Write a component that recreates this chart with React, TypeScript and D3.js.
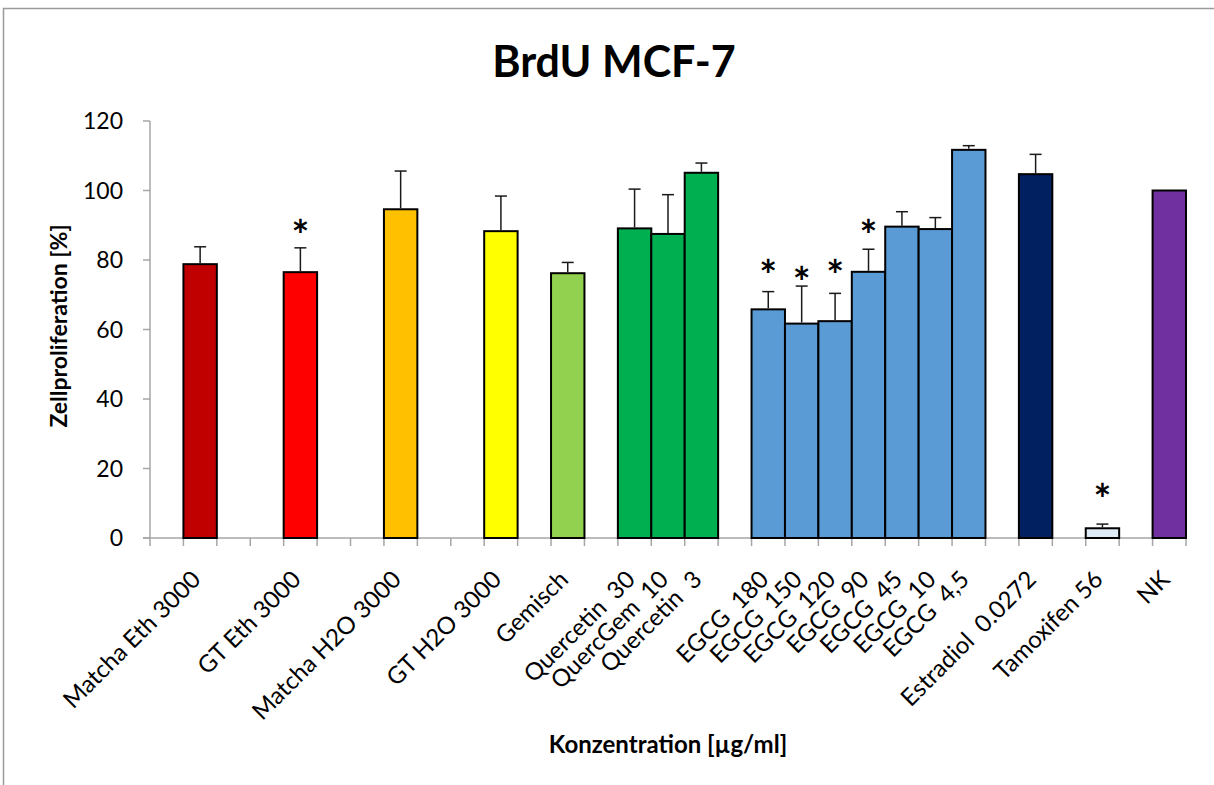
import React from "react";
import * as d3 from "d3";

const categories: string[] = [
  "", "Matcha Eth 3000", "", "", "GT Eth 3000", "", "", "Matcha H2O 3000", "", "",
  "GT H2O 3000", "", "Gemisch", "", "Quercetin  30", "QuercGem  10", "Quercetin  3", "",
  "EGCG  180", "EGCG  150", "EGCG  120", "EGCG  90", "EGCG  45", "EGCG  10", "EGCG  4,5", "",
  "Estradiol  0.0272", "", "Tamoxifen 56", "", "NK",
];

const values: (number | null)[] = [
  null, 78.8, null, null, 76.5, null, null, 94.6, null, null,
  88.3, null, 76.2, null, 89.1, 87.5, 105.1, null,
  65.8, 61.7, 62.4, 76.6, 89.6, 88.9, 111.7, null,
  104.7, null, 2.8, null, 100.0,
];

const errors: (number | null)[] = [
  null, 5.0, null, null, 7.0, null, null, 11.0, null, null,
  10.1, null, 3.1, null, 11.3, 11.3, 2.8, null,
  5.1, 10.8, 8.0, 6.5, 4.3, 3.3, 1.2, null,
  5.7, null, 1.2, null, null,
];

// significance markers: y value (in %) where the asterisk sits
const stars: (number | null)[] = [
  null, null, null, null, 90.1, null, null, null, null, null,
  null, null, null, null, null, null, null, null,
  78.6, 76.6, 78.6, 90.1, null, null, null, null,
  null, null, 14.1, null, null,
];

const groups: (string | null)[] = [
  null, "matchaEth", null, null, "gtEth", null, null, "matchaH2O", null, null,
  "gtH2O", null, "gemisch", null, "quercetin", "quercetin", "quercetin", null,
  "egcg", "egcg", "egcg", "egcg", "egcg", "egcg", "egcg", null,
  "estradiol", null, "tamoxifen", null, "nk",
];

const groupColors: Record<string, string> = {
  matchaEth: "#C00000",
  gtEth: "#FF0000",
  matchaH2O: "#FFC000",
  gtH2O: "#FFFF00",
  gemisch: "#92D050",
  quercetin: "#00B050",
  egcg: "#5B9BD5",
  estradiol: "#002060",
  tamoxifen: "#DEEBF7",
  nk: "#7030A0",
};

const yTicks = [0, 20, 40, 60, 80, 100, 120];

const FONT = "Lato, 'Open Sans', sans-serif";

export default function App() {
  const W = 1214;
  const H = 785;
  const x0 = 150;
  const x1 = 1186;
  const yTop = 121;
  const yBot = 538;

  const x = d3
    .scaleBand<number>()
    .domain(d3.range(categories.length))
    .range([x0, x1])
    .padding(0);
  const y = d3.scaleLinear().domain([0, 120]).range([yBot, yTop]);
  const bw = x.bandwidth();

  const axisColor = "#A6A6A6";

  return (
    <svg
      width={W}
      height={H}
      style={{ position: "absolute", left: 0, top: 0, background: "#fff" }}
      fontFamily={FONT}
    >
      <rect x={0} y={0} width={W} height={H} fill="#fff" />
      <rect x={3.5} y={8.5} width={1400} height={1000} fill="none" stroke="#9a9a9a" strokeWidth={1.5} />

      <text x={614} y={77} textAnchor="middle" fontSize={43} fontWeight="bold" fill="#000">
        BrdU MCF-7
      </text>

      {/* Y axis */}
      <line x1={x0} x2={x0} y1={yTop} y2={yBot} stroke={axisColor} strokeWidth={1.5} />
      {yTicks.map((t) => (
        <g key={t}>
          <line x1={x0 - 7} x2={x0} y1={y(t)} y2={y(t)} stroke={axisColor} strokeWidth={1.5} />
          <text x={x0 - 27} y={y(t)} dy="0.36em" textAnchor="end" fontSize={23} fill="#000">
            {t}
          </text>
        </g>
      ))}
      <text
        transform={`translate(59,${326}) rotate(-90)`}
        textAnchor="middle"
        dy="0.35em"
        fontSize={23}
        fontWeight="bold"
        fill="#000"
      >
        Zellproliferation [%]
      </text>

      {/* X axis */}
      <line x1={x0 - 7} x2={x1} y1={yBot} y2={yBot} stroke={axisColor} strokeWidth={1.5} />
      {d3.range(categories.length + 1).map((i) => {
        const xx = x0 + i * bw;
        return <line key={i} x1={xx} x2={xx} y1={yBot} y2={yBot + 8} stroke={axisColor} strokeWidth={1.5} />;
      })}

      {/* Bars */}
      {values.map((v, i) =>
        v == null ? null : (
          <rect
            key={i}
            x={x(i)!}
            y={y(v)}
            width={bw}
            height={y(0) - y(v)}
            fill={groupColors[groups[i]!]}
            stroke="#000"
            strokeWidth={2}
          />
        )
      )}

      {/* Error bars */}
      {values.map((v, i) => {
        const e = errors[i];
        if (v == null || e == null) return null;
        const cx = x(i)! + bw / 2;
        return (
          <g key={i} stroke="#1a1a1a" strokeWidth={1.5}>
            <line x1={cx} x2={cx} y1={y(v) - 1} y2={y(v + e)} />
            <line x1={cx - 6} x2={cx + 6} y1={y(v + e)} y2={y(v + e)} />
          </g>
        );
      })}

      {/* Significance stars */}
      {stars.map((s, i) =>
        s == null ? null : (
          <text
            key={i}
            x={x(i)! + bw / 2}
            y={y(s)}
            dy="0.62em"
            textAnchor="middle"
            fontSize={42}
            fontWeight="bold"
            fill="#000"
          >
            *
          </text>
        )
      )}

      {/* Category labels */}
      {categories.map((c, i) =>
        c === "" ? null : (
          <text
            key={i}
            transform={`translate(${x(i)! + bw / 2 - 4},${yBot + 37}) rotate(-45)`}
            textAnchor="end"
            dy="0.35em"
            fontSize={24}
            fill="#000"
            style={{ whiteSpace: "pre" }}
          >
            {c}
          </text>
        )
      )}

      <text x={668} y={753} textAnchor="middle" fontSize={24} fontWeight="bold" fill="#000">
        Konzentration [µg/ml]
      </text>
    </svg>
  );
}
